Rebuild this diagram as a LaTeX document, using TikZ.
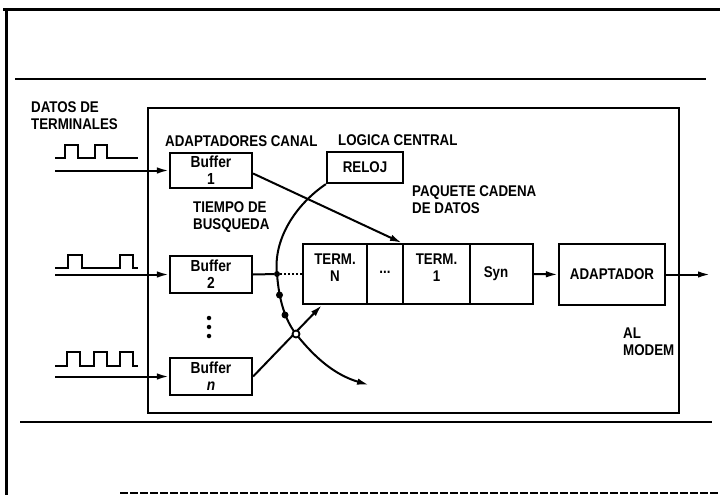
\documentclass[tikz,border=0pt]{standalone}
\usepackage{fontspec}
\setmainfont{Liberation Sans}[FakeStretch=0.86]
\usetikzlibrary{arrows.meta,calc}
\begin{document}
\begin{tikzpicture}[x=1pt,y=-1pt,
  every node/.style={font=\fontsize{15.5}{17}\selectfont\bfseries},
  frameline/.style={line width=3pt},
  rule/.style={line width=2.4pt},
  box/.style={draw,line width=2.2pt,inner sep=0pt},
  bufbox/.style={box,minimum width=82pt,align=center,font=\fontsize{16}{17}\selectfont\bfseries},
  cell/.style={draw,line width=2.2pt,inner sep=0pt,minimum height=60pt},
  lbl/.style={align=left,inner sep=0pt,anchor=west},
  ctext/.style={align=center,inner sep=0pt},
  wire/.style={line width=2pt},
  arr/.style={line width=2pt,-{Latex[length=12pt,width=6.5pt]}},
  pulse/.style={line width=2pt},
  dot/.style={circle,fill=black,inner sep=0pt,minimum size=7pt},
  odot/.style={circle,draw,fill=white,line width=1.8pt,inner sep=0pt,minimum size=7pt},
  vdot/.style={circle,fill=black,inner sep=0pt,minimum size=4.5pt}]
\useasboundingbox (0,0) rectangle (720,495);
% page frame
\draw[frameline] (3,10) -- (720,10);
\draw[frameline] (6,10) -- (6,495);
\draw[rule] (15,79) -- (706,79);
\draw[rule] (20,422) -- (712,422);
\draw[line width=1.6pt,dash pattern=on 8pt off 2pt] (120,493) -- (720,493);
% main box
\node[box,minimum width=531pt,minimum height=305pt] (main) at (413.5,260.5) {};
% labels
\node[lbl] (datos) at (31,116) {DATOS DE\\TERMINALES};
\node[lbl] (adapc) at (165,141) {ADAPTADORES CANAL};
\node[lbl] (logica) at (338,140) {LOGICA CENTRAL};
\node[lbl] (tiempo) at (193,217) {TIEMPO DE\\BUSQUEDA};
\node[lbl] (paquete) at (412,200) {PAQUETE CADENA\\DE DATOS};
\node[lbl] (modem) at (623,342) {AL\\MODEM};
% buffers
\node[bufbox,minimum height=35pt] (buf1) at (211,170.5) {Buffer\\1};
\node[bufbox,minimum height=37pt] (buf2) at (211,274.5) {Buffer\\2};
\node[bufbox,minimum height=37pt] (bufn) at (211,376.5) {Buffer\\\textit{n}};
\node[box,minimum width=76pt,minimum height=31pt] (reloj) at (365,167.5) {RELOJ};
% packet cells
\node[cell,minimum width=64pt] (termN) at (335,274) {};
\node[cell,minimum width=36pt] (cdots) at (385,274) {};
\node[cell,minimum width=67pt] (term1) at (436.5,274) {};
\node[cell,minimum width=63pt] (syn) at (501.5,274) {};
\node[ctext] (tNt) at (335,268) {TERM.\\N};
\node[ctext] (cdt) at (385,272) {...};
\node[ctext] (t1t) at (436.5,268) {TERM.\\1};
\node[ctext] (synt) at (496,274) {Syn};
\node[box,minimum width=106pt,minimum height=61pt] (adapt) at (612,274.5) {ADAPTADOR};
% pulses
\draw[pulse] (55,158) -- (65,158) -- (65,145) -- (78,145) -- (78,158) -- (95,158) -- (95,145) -- (107,145) -- (107,158) -- (138,158);
\draw[pulse] (55,268) -- (68,268) -- (68,255) -- (82,255) -- (82,268) -- (120,268) -- (120,255) -- (133,255) -- (133,268) -- (138,268);
\draw[pulse] (55,366) -- (67,366) -- (67,352) -- (80,352) -- (80,366) -- (94,366) -- (94,352) -- (107,352) -- (107,366) -- (120,366) -- (120,352) -- (133,352) -- (133,366) -- (138,366);
% inputs
\coordinate (in1) at (55,170.5);
\coordinate (in2) at (55,274.5);
\coordinate (inn) at (55,376.5);
\draw[arr] (in1) -- (buf1.west);
\draw[arr] (in2) -- (buf2.west);
\draw[arr] (inn) -- (bufn.west);
% vertical dots
\node[vdot] (v1) at (209,318) {};
\node[vdot] (v2) at (209,327) {};
\node[vdot] (v3) at (209,336) {};
% clock curve
\coordinate (cend) at (369,385);
\node[dot,minimum size=6pt] (j2) at (277,274) {};
\draw[arr] (reloj.south west) .. controls (295,205) and (273,240) .. (j2.center)
  .. controls (279,300) and (285,320) .. (296,334)
  .. controls (315,358) and (335,375) .. (cend);
\node[dot] (d1) at (279.5,295) {};
\node[dot] (d2) at (285,315) {};
% buffer connections
\draw[wire] (buf2.east) -- (j2);
\draw[line width=2pt,dotted] (j2) -- (termN.west);
\coordinate (tnin) at ($(termN.south west)+(20,0)$);
\draw[arr] (bufn.east) -- (tnin);
\node[odot] (cross) at (296,334) {};
\draw[arr] ([yshift=-3pt]buf1.east) -- (term1.north west);
% output chain
\draw[arr] (syn.east) -- (adapt.west);
\coordinate (out) at (710,274.5);
\draw[arr] (adapt.east) -- (out);
\end{tikzpicture}
\end{document}
